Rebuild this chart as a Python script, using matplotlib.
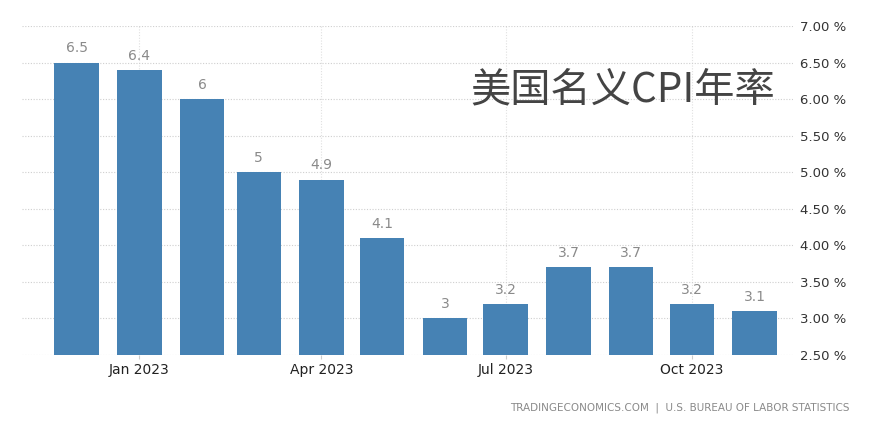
import matplotlib.pyplot as plt
import numpy as np
import datetime as dt

plt.rcParams['font.family'] = ['Noto Sans CJK SC', 'DejaVu Sans']

# monthly US CPI yoy, Dec 2022 - Nov 2023
months = ["2022-12", "2023-01", "2023-02", "2023-03", "2023-04", "2023-05",
          "2023-06", "2023-07", "2023-08", "2023-09", "2023-10", "2023-11"]
cpi = [6.5, 6.4, 6.0, 5.0, 4.9, 4.1, 3.0, 3.2, 3.7, 3.7, 3.2, 3.1]
labels = ["6.5", "6.4", "6", "5", "4.9", "4.1", "3", "3.2", "3.7", "3.7", "3.2", "3.1"]
tick_months = ["2023-01", "2023-04", "2023-07", "2023-10"]
tick_labels = ["Jan 2023", "Apr 2023", "Jul 2023", "Oct 2023"]
yticks = [2.5, 3.0, 3.5, 4.0, 4.5, 5.0, 5.5, 6.0, 6.5, 7.0]

dates = [dt.datetime.strptime(m, "%Y-%m") for m in months]
tick_dates = [dt.datetime.strptime(m, "%Y-%m") for m in tick_months]

fig = plt.figure(figsize=(8.7, 4.36), dpi=100)
ax = fig.add_axes([22 / 870, 1 - 355 / 436, (793 - 22) / 870, (355 - 26) / 436])

ax.bar(dates, np.array(cpi) - 2.5, bottom=2.5, width=22, color="#4682b4", zorder=3)
for d, v, lab in zip(dates, cpi, labels):
    ax.text(d, v + 0.1, lab, ha="center", va="bottom", fontsize=10,
            color="#8a8a8a", family="DejaVu Sans")

ax.set_ylim(2.5, 7.0)
ax.set_xlim(dates[0] - dt.timedelta(days=27), dates[-1] + dt.timedelta(days=19))

ax.yaxis.tick_right()
ax.set_yticks(yticks)
ax.set_yticklabels([f"{y:.2f} %" for y in yticks], fontsize=9.5, color="#333333",
                   family="DejaVu Sans")
ax.set_xticks(tick_dates)
ax.set_xticklabels(tick_labels, fontsize=10, color="#222222", family="DejaVu Sans")
ax.tick_params(axis="y", length=0, pad=5)
ax.tick_params(axis="x", length=3, color="#cccccc", pad=3)

ax.grid(axis="y", linestyle=(0, (1, 1.5)), color="#cfcfcf", linewidth=0.8, zorder=0)
ax.grid(axis="x", linestyle=(0, (1, 1.5)), color="#e0e0e0", linewidth=0.8, zorder=0)
for s in ax.spines.values():
    s.set_visible(False)

ax.text(0.977, 0.805, "美国名义CPI年率", transform=ax.transAxes, ha="right",
        va="center", fontsize=29, color="#444444")

fig.text(850 / 870, 1 - 408 / 436, "TRADINGECONOMICS.COM  |  U.S. BUREAU OF LABOR STATISTICS",
         ha="right", va="center", fontsize=7.5, color="#8a8a8a", family="DejaVu Sans")

fig.savefig("out.png", dpi=100)
